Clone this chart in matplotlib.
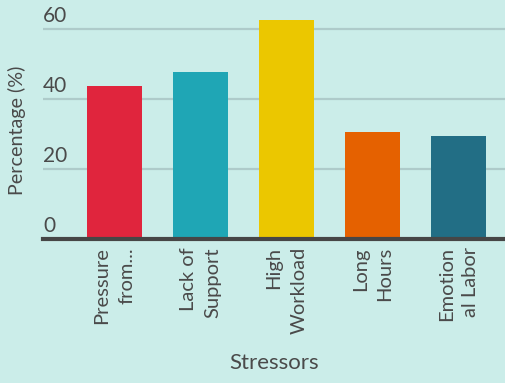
import matplotlib.pyplot as plt
from matplotlib.transforms import offset_copy

# data
stressors = ["Pressure\nfrom...", "Lack of\nSupport", "High\nWorkload", "Long\nHours", "Emotion\nal Labor"]
percent = [43.6, 47.6, 62.5, 30.5, 29.3]
colors = ["#E0253D", "#1FA6B5", "#EBC700", "#E56100", "#226E85"]
yticks = [0, 20, 40, 60]

bg = "#CBEDE9"
txt = "#4a4a4a"

plt.rcParams['font.family'] = ['Lato', 'DejaVu Sans']

fig = plt.figure(figsize=(5.05, 3.83), dpi=100, facecolor=bg)
ax = fig.add_axes([43 / 505, 1 - 238.7 / 383, 1 - 43 / 505, 238.7 / 383])
ax.set_facecolor(bg)

x = range(len(stressors))
ax.bar(x, percent, width=0.64, color=colors, zorder=2)

ax.set_xlim(-0.83, 4.54)
ax.set_ylim(0, 68.2)

# gridlines + labels sitting above them
for v in yticks:
    if v > 0:
        ax.axhline(v, color="#AECBCA", lw=1.6, zorder=1)
    tr = offset_copy(ax.get_yaxis_transform(), fig=fig, x=0, y=2, units='points')
    ax.text(0, v, str(v), transform=tr, ha='left', va='bottom',
            fontsize=15, color=txt)

# dark baseline
ax.axhline(0, color="#464646", lw=3, zorder=3, clip_on=False)

ax.set_yticks([])
ax.set_xticks(list(x))
ax.set_xticklabels(stressors, rotation=90, ha='center', va='top',
                   multialignment='right', fontsize=14.5, color=txt, linespacing=1.55)
ax.tick_params(axis='x', length=0, pad=6)
for s in ax.spines.values():
    s.set_visible(False)

fig.text(17 / 505, 1 - 130 / 383, "Percentage (%)", rotation=90, ha='center', va='center',
         fontsize=14.2, color=txt)
fig.text(274 / 505, 1 - 363 / 383, "Stressors", ha='center', va='center',
         fontsize=16, color=txt)

fig.savefig("out.png", dpi=100, facecolor=bg)
